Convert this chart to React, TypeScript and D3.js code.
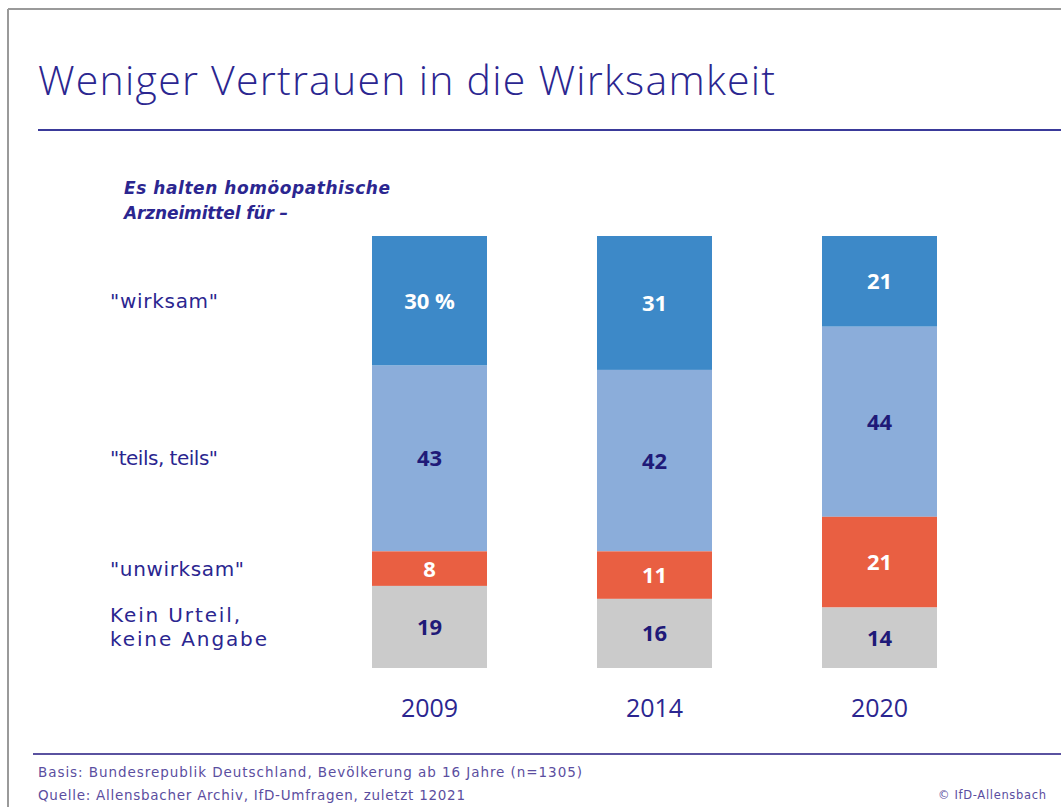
import React from "react";
import * as d3 from "d3";

const years = ["2009", "2014", "2020"];
const categories = ["wirksam", "teils", "unwirksam", "kein"];
const categoryLabels = [["\"wirksam\""], ["\"teils, teils\""], ["\"unwirksam\""], ["Kein Urteil,", "keine Angabe"]];
const categoryLabelWidths = [[108], [108], [134], [130, 157]];
const wirksam = [30, 31, 21];
const teils = [43, 42, 44];
const unwirksam = [8, 11, 21];
const kein = [19, 16, 14];
const colors = ["#3d89c8", "#8badda", "#e95f42", "#cbcbcb"];
const textColors = ["#ffffff", "#1f1a78", "#ffffff", "#1f1a78"];

export default function App() {
  const W = 1061, H = 807;
  const navy = "#2b2690";
  const font = "'Open Sans', Lato, sans-serif";
  const wide = "'DejaVu Sans', 'Open Sans', sans-serif";
  const xb = d3.scalePoint().domain(years).range([429.5, 879.5]);
  const bw = 115;
  const y = d3.scaleLinear().domain([0, 100]).range([236, 668]);
  const series = [wirksam, teils, unwirksam, kein];
  const rows = years.map((yr, i) => {
    let acc = 0;
    return series.map((s, k) => {
      const v = s[i];
      const seg = { k, v, y0: acc, y1: acc + v };
      acc += v;
      return seg;
    });
  });
  return (
    <svg width={W} height={H} style={{ position: "absolute", left: 0, top: 0 }}>
      <rect x={0} y={0} width={W} height={H} fill="#fff" />
      <line x1={8} y1={9} x2={W} y2={9} stroke="#9a9a9a" strokeWidth={2} />
      <line x1={8} y1={9} x2={8} y2={H} stroke="#9a9a9a" strokeWidth={2} />
      <text x={38} y={95} fill={navy} fontFamily={font} fontSize={41} fontWeight={300}
        textLength={737} lengthAdjust="spacing">
        Weniger Vertrauen in die Wirksamkeit
      </text>
      <line x1={38} y1={130} x2={W} y2={130} stroke="#3a3a9a" strokeWidth={2} />
      <text fill={navy} fontFamily={wide} fontSize={17} fontWeight={700} fontStyle="italic">
        <tspan x={124} y={194} textLength={266} lengthAdjust="spacing">Es halten homöopathische</tspan>
        <tspan x={124} y={219} textLength={164} lengthAdjust="spacing">Arzneimittel für –</tspan>
      </text>
      {categoryLabels.map((lines, k) => {
        const seg = rows[0][k];
        const cy = (y(seg.y0) + y(seg.y1)) / 2;
        const n = lines.length;
        return (
          <text key={categories[k]} fill={navy} fontFamily={wide} fontSize={20}>
            {lines.map((l, j) => (
              <tspan key={j} x={110} y={cy + 7 + (j - (n - 1) / 2) * 24}
                textLength={categoryLabelWidths[k][j]} lengthAdjust="spacing">{l}</tspan>
            ))}
          </text>
        );
      })}
      {rows.map((segs, i) => (
        <g key={years[i]}>
          {segs.map((s) => (
            <g key={s.k}>
              <rect x={xb(years[i])! - bw / 2} y={y(s.y0)} width={bw} height={y(s.y1) - y(s.y0)} fill={colors[s.k]} />
              <text x={xb(years[i])} y={(y(s.y0) + y(s.y1)) / 2 + 8} textAnchor="middle" fill={textColors[s.k]}
                fontFamily={font} fontSize={22} fontWeight={700}>
                {i === 0 && s.k === 0 ? `${s.v} %` : s.v}
              </text>
            </g>
          ))}
          <text x={xb(years[i])} y={717} textAnchor="middle" fill={navy} fontFamily={font} fontSize={25}>{years[i]}</text>
        </g>
      ))}
      <line x1={33} y1={754} x2={W} y2={754} stroke="#5a52a0" strokeWidth={2} />
      <text fill="#5b4ea0" fontFamily={wide} fontSize={13.5}>
        <tspan x={38} y={777} textLength={544} lengthAdjust="spacing">Basis: Bundesrepublik Deutschland, Bevölkerung ab 16 Jahre (n=1305)</tspan>
        <tspan x={38} y={800} textLength={427} lengthAdjust="spacing">Quelle: Allensbacher Archiv, IfD-Umfragen, zuletzt 12021</tspan>
      </text>
      <text x={1046} y={799} textAnchor="end" fill="#5b4ea0" fontFamily={wide} fontSize={11.5}
        textLength={108} lengthAdjust="spacing">© IfD-Allensbach</text>
    </svg>
  );
}
